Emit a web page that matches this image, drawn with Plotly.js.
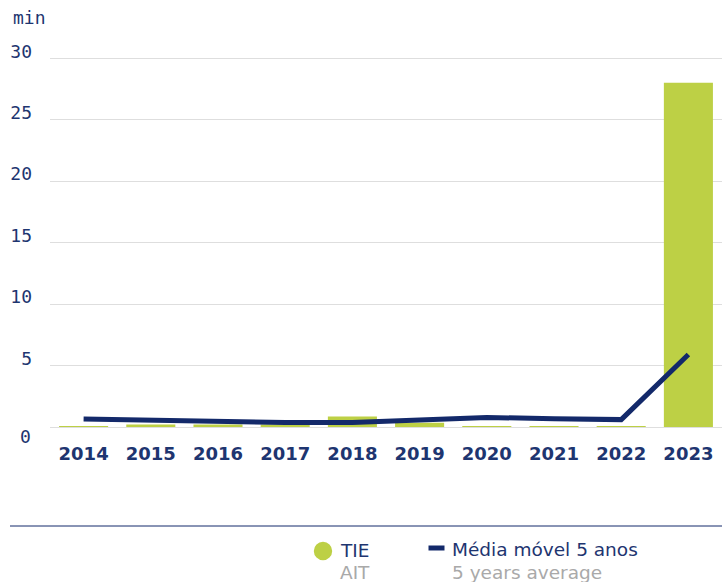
<!DOCTYPE html>
<html>
<head>
<meta charset="utf-8">
<script src="https://cdn.plot.ly/plotly-3.0.1.min.js"></script>
<style>html,body{margin:0;padding:0;background:#fff;}#chart{width:722px;height:582px;}</style>
</head>
<body>
<div id="chart"></div>
<script>
const years = ['2014','2015','2016','2017','2018','2019','2020','2021','2022','2023'];
const tieValues = [0.08, 0.2, 0.2, 0.2, 0.85, 0.35, 0.08, 0.08, 0.08, 28];
const movingAvg5 = [0.65, 0.55, 0.37, 0.37, 0.37, 0.6, 0.78, 0.67, 0.6, 5.9];
const yTickVals = [0, 5, 10, 15, 20, 25, 30];
const yTickLabels = ['0', '5', '10', '15', '20', '25', '30'];
const unitLabel = 'min';
const barName = 'TIE';
const barNameEn = 'AIT';
const lineName = 'Média móvel 5 anos';
const lineNameEn = '5 years average';

const GREEN = '#bdd045';
const NAVY = '#13296a';
const TEXT = '#1e3570';
const GREY = '#a9a9a9';

const traces = [
  {type:'bar', x: years, y: tieValues, name: barName, marker:{color: GREEN}, width: 0.73, showlegend:false, hoverinfo:'x+y'},
  {type:'scatter', mode:'lines', x: years, y: movingAvg5, name: lineName, line:{color: NAVY, width: 5}, showlegend:false}
];

// layout helpers: pixel -> paper coordinates (plot area: left 50, width 672, bottom 427, height 370)
const px = v => (v - 50) / 672;
const py = v => (427 - v) / 370;
const legendFont = (c) => ({family: 'DejaVu Sans', size: 18.5, color: c});

const layout = {
  width: 722, height: 582,
  margin: {l: 50, r: 0, t: 57, b: 155, autoexpand: false},
  paper_bgcolor: '#fff', plot_bgcolor: '#fff',
  font: {family: 'DejaVu Sans', color: TEXT},
  showlegend: false,
  xaxis: {
    type: 'category', range: [-0.5, 9.5], showgrid: false, zeroline: false, showline: false,
    ticks: '', ticklabelstandoff: 14,
    tickfont: {family: 'DejaVu Sans', size: 18, weight: 'bold', color: TEXT}
  },
  yaxis: {
    range: [0, 30.1], tickvals: yTickVals.slice(1), ticktext: yTickLabels.slice(1),
    showgrid: true, gridcolor: '#dedede', gridwidth: 1,
    zeroline: true, zerolinecolor: '#dedede', zerolinewidth: 1,
    showline: false, ticks: '', ticklabelstandoff: 17, ticklabelshift: -7,
    tickfont: {family: 'DejaVu Sans Mono', size: 18, color: TEXT}
  },
  annotations: [
    {xref:'paper', yref:'paper', x: px(11), y: py(17), xanchor:'left', yanchor:'middle', text: unitLabel,
     showarrow:false, font:{family:'DejaVu Sans Mono', size: 18, color: TEXT}},
    {xref:'paper', yref:'y', x: 0, y: yTickVals[0], xanchor:'right', yanchor:'middle', xshift: -17, yshift: -9,
     text: yTickLabels[0], showarrow:false, font:{family:'DejaVu Sans Mono', size: 18, color: TEXT}},
    // legend texts
    {xref:'paper', yref:'paper', x: px(338), y: py(550), xanchor:'left', yanchor:'middle', text: barName,
     showarrow:false, font: legendFont(TEXT)},
    {xref:'paper', yref:'paper', x: px(338), y: py(572), xanchor:'left', yanchor:'middle', text: barNameEn,
     showarrow:false, font: legendFont(GREY)},
    {xref:'paper', yref:'paper', x: px(450), y: py(549), xanchor:'left', yanchor:'middle', text: lineName,
     showarrow:false, font: legendFont(TEXT)},
    {xref:'paper', yref:'paper', x: px(450), y: py(572), xanchor:'left', yanchor:'middle', text: lineNameEn,
     showarrow:false, font: legendFont(GREY)}
  ],
  shapes: [
    {type:'line', xref:'paper', yref:'paper', x0: px(10), x1: 1, y0: py(526), y1: py(526), line:{color: NAVY, width: 1}},
    // legend symbols
    {type:'circle', xref:'paper', yref:'paper', xsizemode:'pixel', ysizemode:'pixel',
     xanchor: px(323), yanchor: py(551), x0: -9.2, x1: 9.2, y0: -9.2, y1: 9.2,
     fillcolor: GREEN, line:{width: 0}},
    {type:'line', xref:'paper', yref:'paper', x0: px(428.5), x1: px(444.5), y0: py(548), y1: py(548),
     line:{color: NAVY, width: 5}}
  ]
};

Plotly.newPlot('chart', traces, layout, {displayModeBar: false, staticPlot: true});
</script>
</body>
</html>
